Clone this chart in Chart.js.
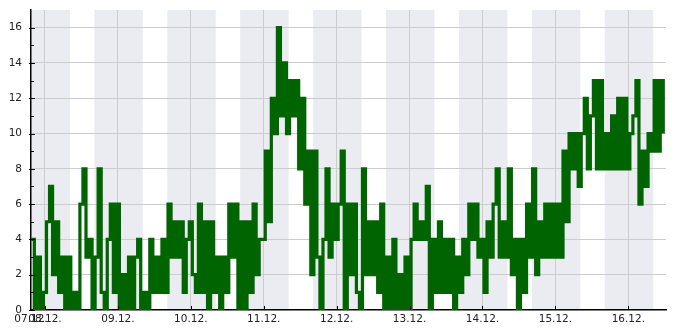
<!DOCTYPE html>
<html>
<head>
<meta charset="utf-8">
<script src="https://cdn.jsdelivr.net/npm/chart.js@4.4.1/dist/chart.umd.min.js"></script>
<style>
  body { margin: 0; background: #fff; }
</style>
</head>
<body>
<canvas id="chart" width="685" height="330"></canvas>
<script>
// hours are counted from 07.12. 00:00
const startHour = 19.5; // first reading, one per hour after that
const values = [
  4, 0, 3, 0, 1, 5, 7, 2, 5, 1, 3, 0, 3, 0, 1, 0, 6, 8, 3, 4,
  0, 3, 8, 1, 0, 4, 6, 1, 6, 0, 2, 0, 3, 0, 3, 4, 0, 1, 0, 4,
  1, 3, 1, 4, 1, 6, 3, 5, 3, 5, 1, 4, 5, 2, 1, 6, 1, 5, 0, 5,
  1, 3, 0, 3, 1, 6, 3, 6, 0, 5, 0, 5, 1, 6, 2, 4, 4, 9, 5, 12,
  10, 16, 11, 14, 10, 13, 11, 13, 8, 12, 6, 9, 2, 9, 3, 0, 4, 8, 3, 6,
  4, 6, 9, 0, 6, 2, 6, 1, 0, 8, 2, 5, 2, 5, 1, 6, 0, 3, 0, 4,
  0, 2, 0, 3, 0, 4, 6, 4, 5, 4, 7, 0, 4, 1, 5, 1, 4, 1, 4, 0,
  3, 1, 4, 2, 6, 4, 6, 3, 4, 1, 5, 3, 6, 8, 3, 5, 3, 8, 2, 4,
  0, 4, 1, 6, 3, 8, 2, 5, 3, 6, 3, 6, 3, 6, 3, 9, 5, 10, 8, 10,
  7, 10, 12, 8, 11, 13, 8, 13, 8, 10, 8, 11, 8, 12, 8, 12, 8, 10, 11, 13,
  6, 9, 7, 10, 9, 13, 9, 13, 10,
];

const tickHours = [19.4, 24, 48, 72, 96, 120, 144, 168, 192, 216];
const tickLabels = ["07.12.", "08.12.", "09.12.", "10.12.", "11.12.", "12.12.", "13.12.", "14.12.", "15.12.", "16.12."];

// shaded night periods
const nightStarts = [19.4, 40.25, 64.25, 88.25, 112.25, 136.25, 160.25, 184.25, 208.25];
const nightEnds = [32.2, 56.2, 80.2, 104.2, 128.2, 152.2, 176.2, 200.2, 224.2];

const points = values.map((v, i) => ({ x: startHour + i, y: v }));

const nightBands = {
  id: "nightBands",
  beforeDraw(chart) {
    const { ctx, chartArea, scales } = chart;
    ctx.save();
    ctx.fillStyle = "#ebecf2";
    for (let k = 0; k < nightStarts.length; k++) {
      const x1 = Math.max(scales.x.getPixelForValue(nightStarts[k]), chartArea.left);
      const x2 = Math.min(scales.x.getPixelForValue(nightEnds[k]), chartArea.right);
      ctx.fillRect(x1, chartArea.top, x2 - x1, chartArea.bottom - chartArea.top);
    }
    ctx.restore();
  },
};

// small tick marks pointing into the plot
const innerTicks = {
  id: "innerTicks",
  afterDraw(chart) {
    const { ctx, chartArea, scales } = chart;
    ctx.save();
    ctx.strokeStyle = "#000";
    ctx.lineWidth = 1;
    ctx.beginPath();
    for (let v = 0; v <= 16; v++) {
      const y = Math.round(scales.y.getPixelForValue(v)) + 0.5;
      ctx.moveTo(chartArea.left - (v % 2 === 0 ? 2 : 0), y);
      ctx.lineTo(chartArea.left + (v % 2 === 0 ? 4 : 3), y);
    }
    tickHours.slice(1).forEach((h) => {
      const x = Math.round(scales.x.getPixelForValue(h)) + 0.5;
      ctx.moveTo(x, chartArea.bottom);
      ctx.lineTo(x, chartArea.bottom - 4);
    });
    ctx.stroke();
    ctx.restore();
  },
};

Chart.defaults.font.family = "DejaVu Sans";
Chart.defaults.font.size = 10.5;
Chart.defaults.color = "#222";

const config = {
  type: "line",
  data: {
    datasets: [
      {
        data: points,
        borderColor: "#006400",
        backgroundColor: "#006400",
        borderWidth: 3.2,
        stepped: true,
        pointRadius: 0,
        fill: false,
      },
    ],
  },
  options: {
    responsive: false,
    animation: false,
    devicePixelRatio: 1,
    layout: { padding: { top: 10, right: 19, left: 0, bottom: 0 } },
    plugins: {
      legend: { display: false },
      tooltip: { enabled: false },
    },
    scales: {
      x: {
        type: "linear",
        min: 19.4,
        max: 228.4,
        afterBuildTicks: (scale) => {
          scale.ticks = tickHours.map((h) => ({ value: h }));
        },
        afterFit: (scale) => {
          scale.height = 20;
          scale.paddingLeft = 0;
          scale.paddingRight = 0;
        },
        ticks: {
          autoSkip: false,
          maxRotation: 0,
          padding: 3,
          callback: (value, index) => tickLabels[index],
        },
        grid: {
          drawTicks: false,
          color: (ctx) => (ctx.index === 0 ? "transparent" : "#cccccc"),
        },
        border: { color: "#000", width: 1.5 },
      },
      y: {
        min: 0,
        max: 17,
        afterFit: (scale) => {
          scale.width = 31;
          scale.paddingTop = 0;
          scale.paddingBottom = 0;
        },
        ticks: {
          stepSize: 1,
          padding: 9,
          callback: (value) => (value % 2 === 0 ? value : ""),
        },
        grid: {
          drawTicks: false,
          color: (ctx) =>
            ctx.tick && ctx.tick.value % 2 === 0 && ctx.tick.value > 0 ? "#cccccc" : "transparent",
        },
        border: { color: "#000", width: 1.5 },
      },
    },
  },
  plugins: [nightBands, innerTicks],
};

const myChart = new Chart(document.getElementById("chart"), config);
</script>
</body>
</html>
